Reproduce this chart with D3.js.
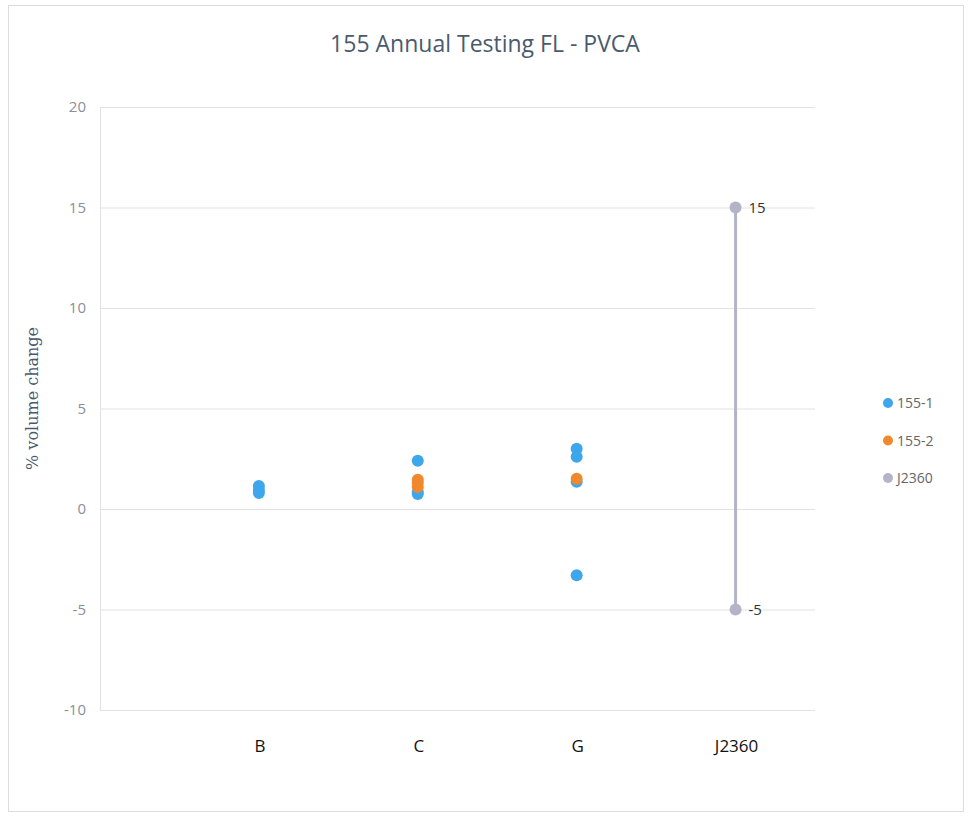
<!DOCTYPE html>
<meta charset="utf-8">
<style>
body { margin: 0; background: #fff; }
.title { font: 23px "Open Sans", Calibri, sans-serif; fill: #4a5a6e; text-anchor: middle; }
.tick text { font: 15px "Open Sans", sans-serif; fill: #8a8f99; }
.cat { font: 17px "Open Sans", sans-serif; fill: #111; text-anchor: middle; }
.ylabel { font: 16px "DejaVu Serif", serif; fill: #4a5a6e; text-anchor: middle; }
.legend text { font: 14px "Open Sans", sans-serif; fill: #666; }
.dlabel { font: 15px "Open Sans", sans-serif; fill: #333; }
</style>
<svg width="969" height="817"></svg>
<script src="https://d3js.org/d3.v7.min.js"></script>
<script>

var categories = ["B", "C", "G", "J2360"];
var yTicks = [-10, -5, 0, 5, 10, 15, 20];

// 155-1 readings per category
var s1B = [1.15, 0.95, 0.8];
var s1C = [2.4, 0.85, 0.75];
var s1G = [3.0, 2.6, 1.35, -3.3];
// 155-2 readings
var s2C = [1.45, 1.3, 1.1];
var s2G = [1.5];
// J2360 spec limits
var specJ = [15, -5];

var seriesNames = ["155-1", "155-2", "J2360"];
var colors = ["#3ea6ea", "#f0882e", "#b3b4c6"];

var svg = d3.select("svg");

svg.append("rect")
    .attr("x", 8.5).attr("y", 5.5).attr("width", 955).attr("height", 806)
    .attr("fill", "none").attr("stroke", "#dcdcdc");

var x = d3.scaleLinear().domain([0, 4.5]).range([100, 815]);
var y = d3.scaleLinear().domain([-10, 20]).range([710, 107]);

svg.append("text").attr("class", "title")
    .attr("x", 485).attr("y", 52)
    .text("155 Annual Testing FL - PVCA");

// gridlines
svg.append("g")
  .selectAll("line")
  .data(yTicks)
  .join("line")
    .attr("x1", x(0)).attr("x2", x(4.5))
    .attr("y1", function(d) { return y(d) + 0.5; })
    .attr("y2", function(d) { return y(d) + 0.5; })
    .attr("stroke", "#e2e2e2");

svg.append("line")
    .attr("x1", x(0) + 0.5).attr("x2", x(0) + 0.5)
    .attr("y1", y(20)).attr("y2", y(-10))
    .attr("stroke", "#e2e2e2");

var yAxis = svg.append("g")
    .attr("transform", "translate(" + (x(0) - 14) + ",0)")
    .call(d3.axisLeft(y).tickValues(yTicks).tickSize(0).tickPadding(0)
      .tickFormat(function(d) { return String(d); }));
yAxis.select(".domain").remove();

svg.append("text").attr("class", "ylabel")
    .attr("transform", "translate(38," + y(5.5) + ") rotate(-90)")
    .text("% volume change");

svg.selectAll(".cat")
  .data(categories)
  .join("text")
    .attr("class", "cat")
    .attr("x", function(d, i) { return x(i + 1) + 1; })
    .attr("y", 752)
    .text(function(d) { return d; });

// J2360 range line
svg.append("line")
    .attr("x1", x(4)).attr("x2", x(4))
    .attr("y1", y(specJ[0])).attr("y2", y(specJ[1]))
    .attr("stroke", colors[2]).attr("stroke-width", 3);

var points = [];
s1B.forEach(function(v) { points.push({c: 1, v: v, s: 0}); });
s1C.forEach(function(v) { points.push({c: 2, v: v, s: 0}); });
s1G.forEach(function(v) { points.push({c: 3, v: v, s: 0}); });
s2C.forEach(function(v) { points.push({c: 2, v: v, s: 1}); });
s2G.forEach(function(v) { points.push({c: 3, v: v, s: 1}); });
specJ.forEach(function(v) { points.push({c: 4, v: v, s: 2}); });

svg.append("g")
  .selectAll("circle")
  .data(points)
  .join("circle")
    .attr("cx", function(d) { return x(d.c); })
    .attr("cy", function(d) { return y(d.v); })
    .attr("r", 6)
    .attr("fill", function(d) { return colors[d.s]; });

svg.selectAll(".dlabel")
  .data(specJ)
  .join("text")
    .attr("class", "dlabel")
    .attr("x", x(4) + 13)
    .attr("y", function(d) { return y(d) + 5; })
    .text(function(d) { return d; });

var legend = svg.append("g").attr("class", "legend")
  .selectAll("g")
  .data(seriesNames)
  .join("g")
    .attr("transform", function(d, i) { return "translate(888," + (403 + i * 37.5) + ")"; });

legend.append("circle").attr("r", 5).attr("fill", function(d, i) { return colors[i]; });
legend.append("text").attr("x", 9).attr("y", 5).text(function(d) { return d; });

</script>
